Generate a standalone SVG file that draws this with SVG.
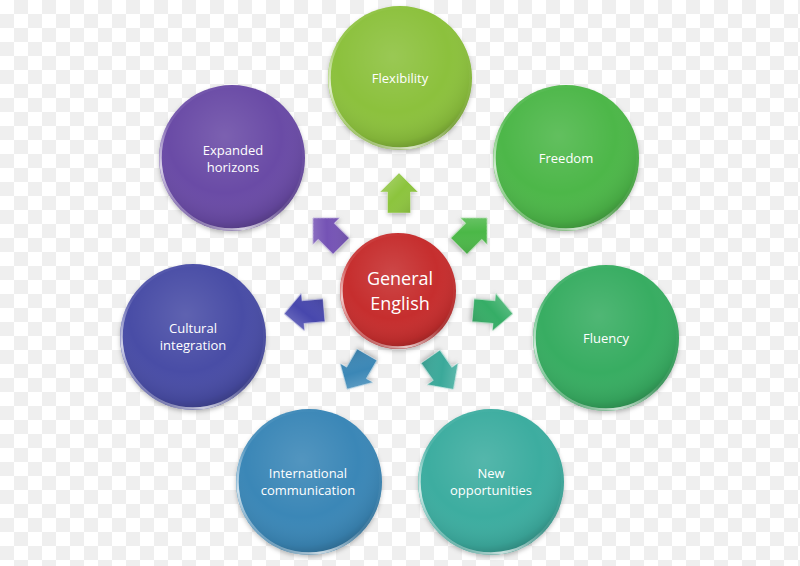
<svg xmlns="http://www.w3.org/2000/svg" width="800" height="566" viewBox="0 0 800 566">
<defs>
<pattern id="checker" width="28" height="28" patternUnits="userSpaceOnUse">
<rect width="28" height="28" fill="#ffffff"/>
<rect x="14" y="0" width="14" height="14" fill="#efefef"/>
<rect x="0" y="14" width="14" height="14" fill="#efefef"/>
</pattern>
<radialGradient id="gloss" cx="0.45" cy="0.35" r="0.65">
<stop offset="0" stop-color="#ffffff" stop-opacity="0.12"/>
<stop offset="0.6" stop-color="#ffffff" stop-opacity="0"/>
<stop offset="0.9" stop-color="#000000" stop-opacity="0.08"/>
<stop offset="1" stop-color="#000000" stop-opacity="0.22"/>
</radialGradient>
<linearGradient id="rim" x1="0.8" y1="0.1" x2="0.2" y2="0.9">
<stop offset="0" stop-color="#ffffff" stop-opacity="0"/>
<stop offset="0.55" stop-color="#ffffff" stop-opacity="0.1"/>
<stop offset="0.85" stop-color="#ffffff" stop-opacity="0.75"/>
<stop offset="1" stop-color="#ffffff" stop-opacity="0.3"/>
</linearGradient>
<linearGradient id="arrowShade" x1="0" y1="0" x2="1" y2="1">
<stop offset="0" stop-color="#ffffff" stop-opacity="0.3"/>
<stop offset="0.5" stop-color="#ffffff" stop-opacity="0"/>
<stop offset="1" stop-color="#000000" stop-opacity="0.15"/>
</linearGradient>
<filter id="shadow" x="-20%" y="-20%" width="140%" height="140%">
<feDropShadow dx="0" dy="2" stdDeviation="2" flood-color="#000" flood-opacity="0.25"/>
</filter>
<path id="arrow" d="M0,-20 L19,-1 L11.5,-1 L11.5,20 L-11.5,20 L-11.5,-1 L-19,-1 Z"/>
</defs>
<style>
.lbl { font-family: "Open Sans", "Liberation Sans", sans-serif; font-size: 13px; fill: #ffffff; text-anchor: middle; }
.big { font-family: "Open Sans", "Liberation Sans", sans-serif; font-size: 18px; fill: #ffffff; text-anchor: middle; }
.gl { fill: url(#gloss); }
.rim { fill: none; stroke: url(#rim); stroke-width: 2.5; }
.arr-s { fill: url(#arrowShade); stroke: #ffffff; stroke-opacity: 0.35; stroke-width: 1; }
</style>
<rect width="800" height="566" fill="url(#checker)"/>

<g id="connectors">
<g transform="translate(399,193)"><use href="#arrow" fill="#8cc43e" filter="url(#shadow)"/><use href="#arrow" class="arr-s"/></g>
<g transform="translate(473,232) rotate(45)"><use href="#arrow" fill="#4bb847" filter="url(#shadow)"/><use href="#arrow" class="arr-s"/></g>
<g transform="translate(493,312) rotate(95)"><use href="#arrow" fill="#36ad66" filter="url(#shadow)"/><use href="#arrow" class="arr-s"/></g>
<g transform="translate(442,373) rotate(145)"><use href="#arrow" fill="#3aa99a" filter="url(#shadow)"/><use href="#arrow" class="arr-s"/></g>
<g transform="translate(357,372) rotate(-150)"><use href="#arrow" fill="#3a87b6" filter="url(#shadow)"/><use href="#arrow" class="arr-s"/></g>
<g transform="translate(304,312) rotate(-95)"><use href="#arrow" fill="#4646ad" filter="url(#shadow)"/><use href="#arrow" class="arr-s"/></g>
<g transform="translate(327,232) rotate(-45)"><use href="#arrow" fill="#7552b5" filter="url(#shadow)"/><use href="#arrow" class="arr-s"/></g>
</g>

<g id="node-center">
<circle cx="398" cy="291" r="58" fill="#c62f2f" filter="url(#shadow)"/>
<circle cx="398" cy="291" r="58" class="gl"/>
<circle cx="398" cy="291" r="56.5" class="rim"/>
<text class="big" x="400" y="285">General</text>
<text class="big" x="400" y="310">English</text>
</g>

<g id="node-flexibility">
<circle cx="400" cy="78" r="72" fill="#8cc13c" filter="url(#shadow)"/>
<circle cx="400" cy="78" r="72" class="gl"/>
<circle cx="400" cy="78" r="70.5" class="rim"/>
<text class="lbl" x="400" y="83">Flexibility</text>
</g>

<g id="node-freedom">
<circle cx="566" cy="158" r="73" fill="#4db748" filter="url(#shadow)"/>
<circle cx="566" cy="158" r="73" class="gl"/>
<circle cx="566" cy="158" r="71.5" class="rim"/>
<text class="lbl" x="566" y="163">Freedom</text>
</g>

<g id="node-fluency">
<circle cx="606" cy="338" r="73" fill="#39ad62" filter="url(#shadow)"/>
<circle cx="606" cy="338" r="73" class="gl"/>
<circle cx="606" cy="338" r="71.5" class="rim"/>
<text class="lbl" x="606" y="343">Fluency</text>
</g>

<g id="node-opportunities">
<circle cx="491" cy="482" r="73" fill="#3cada0" filter="url(#shadow)"/>
<circle cx="491" cy="482" r="73" class="gl"/>
<circle cx="491" cy="482" r="71.5" class="rim"/>
<text class="lbl" x="491" y="478">New</text>
<text class="lbl" x="491" y="495">opportunities</text>
</g>

<g id="node-international">
<circle cx="309" cy="482" r="73" fill="#3a87b7" filter="url(#shadow)"/>
<circle cx="309" cy="482" r="73" class="gl"/>
<circle cx="309" cy="482" r="71.5" class="rim"/>
<text class="lbl" x="308" y="478">International</text>
<text class="lbl" x="308" y="495">communication</text>
</g>

<g id="node-cultural">
<circle cx="193" cy="337" r="73" fill="#4a4ea6" filter="url(#shadow)"/>
<circle cx="193" cy="337" r="73" class="gl"/>
<circle cx="193" cy="337" r="71.5" class="rim"/>
<text class="lbl" x="193" y="333">Cultural</text>
<text class="lbl" x="193" y="350">integration</text>
</g>

<g id="node-expanded">
<circle cx="232" cy="158" r="73" fill="#6a4ba6" filter="url(#shadow)"/>
<circle cx="232" cy="158" r="73" class="gl"/>
<circle cx="232" cy="158" r="71.5" class="rim"/>
<text class="lbl" x="233" y="155">Expanded</text>
<text class="lbl" x="233" y="172">horizons</text>
</g>
</svg>
